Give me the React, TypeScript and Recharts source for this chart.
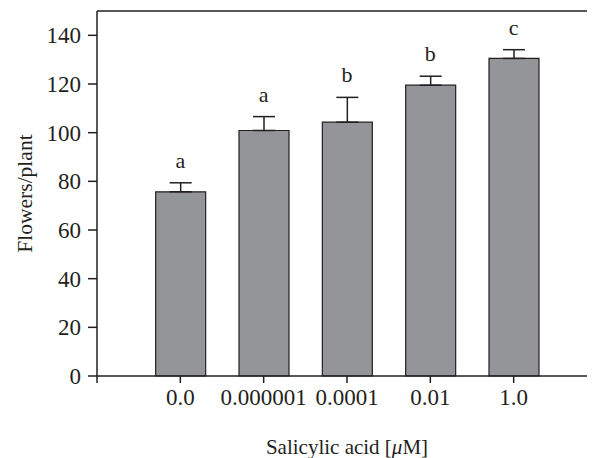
import React from 'react';
import { ComposedChart, Bar, Line, XAxis, YAxis, ErrorBar, ReferenceLine, LabelList } from 'recharts';

const concentrations = ['0.0', '0.000001', '0.0001', '0.01', '1.0'];
const flowersPerPlant = [75.7, 100.9, 104.3, 119.5, 130.5];
const upperErrors = [3.7, 5.7, 10.2, 3.7, 3.6];
const significance = ['a', 'a', 'b', 'b', 'c'];
const yTicks = [0, 20, 40, 60, 80, 100, 120, 140];
const xTicks = [0, 1, 2, 3, 4, 5, 6];

const data = concentrations.map((c, i) => ({
  pos: i + 1,
  label: c,
  value: flowersPerPlant[i],
  err: [0, upperErrors[i]],
  capTop: flowersPerPlant[i] + upperErrors[i],
  sig: significance[i],
}));

const INK = '#231f20';
const FONT = '"Liberation Serif", "Times New Roman", serif';

export default function App() {
  return (
    <div style={{ width: 587, height: 450, overflow: 'hidden' }}>
      <ComposedChart
        width={600}
        height={450}
        data={data}
        margin={{ top: 3, right: 11, left: 0, bottom: 0 }}
        style={{ fontFamily: FONT }}
      >
        <XAxis
          dataKey="pos"
          type="number"
          domain={[0, 6]}
          ticks={xTicks}
          interval={0}
          height={82}
          stroke={INK}
          strokeWidth={1.5}
          tickSize={7}
          tickMargin={6}
          tick={{ fontSize: 23, fill: INK, fontFamily: FONT }}
          tickFormatter={(v: number) => (v >= 1 && v <= concentrations.length ? concentrations[v - 1] : '')}
          label={{
            content: (props: any) => {
              const vb = props.viewBox;
              return (
                <text x={vb.x + vb.width / 2} y={vb.y + 78} textAnchor="middle" fontSize={21} fill={INK} fontFamily={FONT}>
                  Salicylic acid [<tspan fontStyle="italic">μ</tspan>M]
                </text>
              );
            },
          }}
        />
        <YAxis
          type="number"
          domain={[0, 150]}
          ticks={yTicks}
          interval={0}
          width={89}
          stroke={INK}
          strokeWidth={1.5}
          tickSize={9}
          tickMargin={7}
          tick={{ fontSize: 23, fill: INK, fontFamily: FONT }}
          label={{
            content: (props: any) => {
              const vb = props.viewBox;
              const cy = vb.y + vb.height / 2;
              return (
                <text x={24} y={cy} transform={`rotate(-90, 24, ${cy})`} textAnchor="middle" fontSize={21.5} fill={INK} fontFamily={FONT}>
                  Flowers/plant
                </text>
              );
            },
          }}
        />
        <ReferenceLine y={150} stroke={INK} strokeWidth={1.5} ifOverflow="extendDomain" />
        <Bar dataKey="value" barSize={50} fill="#939598" stroke={INK} strokeWidth={1.2} isAnimationActive={false}>
          <ErrorBar dataKey="err" direction="y" width={11} stroke={INK} strokeWidth={1.5} />
        </Bar>
        <Line dataKey="capTop" stroke="none" dot={false} activeDot={false} isAnimationActive={false}>
          <LabelList dataKey="sig" position="top" offset={15} fontSize={22} fill={INK} fontFamily={FONT} />
        </Line>
      </ComposedChart>
    </div>
  );
}
